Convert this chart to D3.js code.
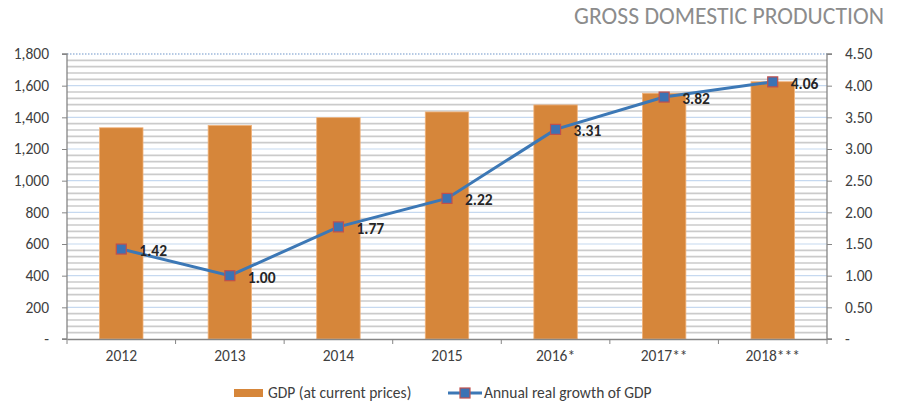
<!DOCTYPE html>
<html>
<head>
<meta charset="utf-8">
<script src="https://cdn.jsdelivr.net/npm/d3@7"></script>
<style>
  body { margin: 0; background: #fff; }
  svg { font-family: Carlito, "Open Sans", "Liberation Sans", sans-serif; }
</style>
</head>
<body>
<svg id="chart" width="897" height="403"></svg>
<script>
const years = ['2012', '2013', '2014', '2015', '2016*', '2017**', '2018***'];
const gdp = [1334, 1349, 1398, 1434, 1478, 1552, 1625];
const growth = [1.42, 1.00, 1.77, 2.22, 3.31, 3.82, 4.06];
const leftTicks = [0, 200, 400, 600, 800, 1000, 1200, 1400, 1600, 1800];
const rightTicks = [0, 0.5, 1, 1.5, 2, 2.5, 3, 3.5, 4, 4.5];

const svg = d3.select('#chart');
const m = { left: 67, right: 827, top: 54, bottom: 339 };
const font = 'Carlito, "Open Sans", "Liberation Sans", sans-serif';

const x = d3.scaleBand().domain(years).range([m.left, m.right]).paddingInner(0.6).paddingOuter(0.3);
const xCat = d3.scaleBand().domain(years).range([m.left, m.right]);
const yL = d3.scaleLinear().domain([0, 1800]).range([m.bottom, m.top]);
const yR = d3.scaleLinear().domain([0, 4.5]).range([m.bottom, m.top]);

// title
svg.append('text')
  .attr('x', 884).attr('y', 24)
  .attr('text-anchor', 'end')
  .attr('fill', '#8c8c8c')
  .attr('font-size', 23.7)
  .text('GROSS DOMESTIC PRODUCTION');

// minor gridlines every 40
const minor = d3.range(40, 1800, 40).filter(v => v % 200 !== 0);
svg.append('g').selectAll('line').data(minor).join('line')
  .attr('x1', m.left).attr('x2', m.right)
  .attr('y1', d => yL(d)).attr('y2', d => yL(d))
  .attr('stroke', '#cbcbcb').attr('stroke-width', 1.7);

// major gridlines
svg.append('g').selectAll('line').data(leftTicks.slice(1, -1)).join('line')
  .attr('x1', m.left).attr('x2', m.right)
  .attr('y1', d => yL(d)).attr('y2', d => yL(d))
  .attr('stroke', '#c6d9f0').attr('stroke-width', 1.2);

svg.append('line')
  .attr('x1', m.left).attr('x2', m.right)
  .attr('y1', yL(1800)).attr('y2', yL(1800))
  .attr('stroke', '#9fb9dc').attr('stroke-width', 1.5)
  .attr('stroke-dasharray', '1.5,1.5');

// bars
svg.append('g').selectAll('rect').data(gdp).join('rect')
  .attr('x', (d, i) => x(years[i]))
  .attr('y', d => yL(d))
  .attr('width', x.bandwidth())
  .attr('height', d => yL(0) - yL(d))
  .attr('fill', '#d6863a')
  .attr('stroke', '#f0b27a').attr('stroke-width', 0.8);

// axes
const axisColor = '#868686';
const gl = svg.append('g').attr('transform', `translate(${m.left},0)`)
  .call(d3.axisLeft(yL).tickValues(leftTicks).tickSize(5).tickPadding(13)
    .tickFormat(d => d === 0 ? '-' : d3.format(',')(d)));
const gr = svg.append('g').attr('transform', `translate(${m.right},0)`)
  .call(d3.axisRight(yR).tickValues(rightTicks).tickSize(5).tickPadding(13)
    .tickFormat(d => d === 0 ? '-' : d3.format('.2f')(d)));
const gb = svg.append('g').attr('transform', `translate(0,${m.bottom})`)
  .call(d3.axisBottom(xCat).tickSize(0).tickPadding(11));

// category boundary ticks
svg.append('g').selectAll('line').data(d3.range(years.length + 1)).join('line')
  .attr('x1', i => m.left + i * xCat.step()).attr('x2', i => m.left + i * xCat.step())
  .attr('y1', m.bottom).attr('y2', m.bottom + 5)
  .attr('stroke', axisColor).attr('stroke-width', 1);

[gl, gr, gb].forEach(g => {
  g.select('.domain').attr('stroke', axisColor).attr('stroke-width', 1.3);
  g.selectAll('.tick line').attr('stroke', axisColor);
  g.selectAll('.tick text').attr('fill', '#404040').attr('font-size', 15.5)
    .attr('font-family', font);
});
gl.select('.domain').attr('d', `M-5,${m.top}H0V${m.bottom}H-5`);
gr.select('.domain').attr('d', `M5,${m.top}H0V${m.bottom}H5`);

// growth line
const cx = (d, i) => xCat(years[i]) + xCat.bandwidth() / 2;
const line = d3.line().x(cx).y(d => yR(d));
svg.append('path').datum(growth)
  .attr('d', line)
  .attr('fill', 'none')
  .attr('stroke', '#3c78b6').attr('stroke-width', 3);

svg.append('g').selectAll('rect').data(growth).join('rect')
  .attr('x', (d, i) => cx(d, i) - 5)
  .attr('y', d => yR(d) - 5)
  .attr('width', 10).attr('height', 10)
  .attr('fill', '#3c73b4')
  .attr('stroke', '#c0504d').attr('stroke-width', 1.2);

svg.append('g').selectAll('text').data(growth).join('text')
  .attr('x', (d, i) => cx(d, i) + 18)
  .attr('y', d => yR(d) + 7)
  .attr('font-size', 15.5).attr('font-weight', 'bold')
  .attr('fill', '#262626')
  .text(d => d3.format('.2f')(d));

// legend
const lg = svg.append('g').attr('font-size', 15.5);
lg.append('rect').attr('x', 234).attr('y', 389).attr('width', 29).attr('height', 8).attr('fill', '#d6863a');
lg.append('text').attr('x', 268).attr('y', 398).attr('fill', '#404040').text('GDP (at current prices)');
lg.append('line').attr('x1', 448).attr('x2', 482).attr('y1', 393).attr('y2', 393)
  .attr('stroke', '#3c78b6').attr('stroke-width', 3);
lg.append('rect').attr('x', 460).attr('y', 388).attr('width', 10).attr('height', 10)
  .attr('fill', '#3c73b4').attr('stroke', '#c0504d').attr('stroke-width', 1.2);
lg.append('text').attr('x', 484).attr('y', 398).attr('fill', '#404040').text('Annual real growth of GDP');
</script>
</body>
</html>
